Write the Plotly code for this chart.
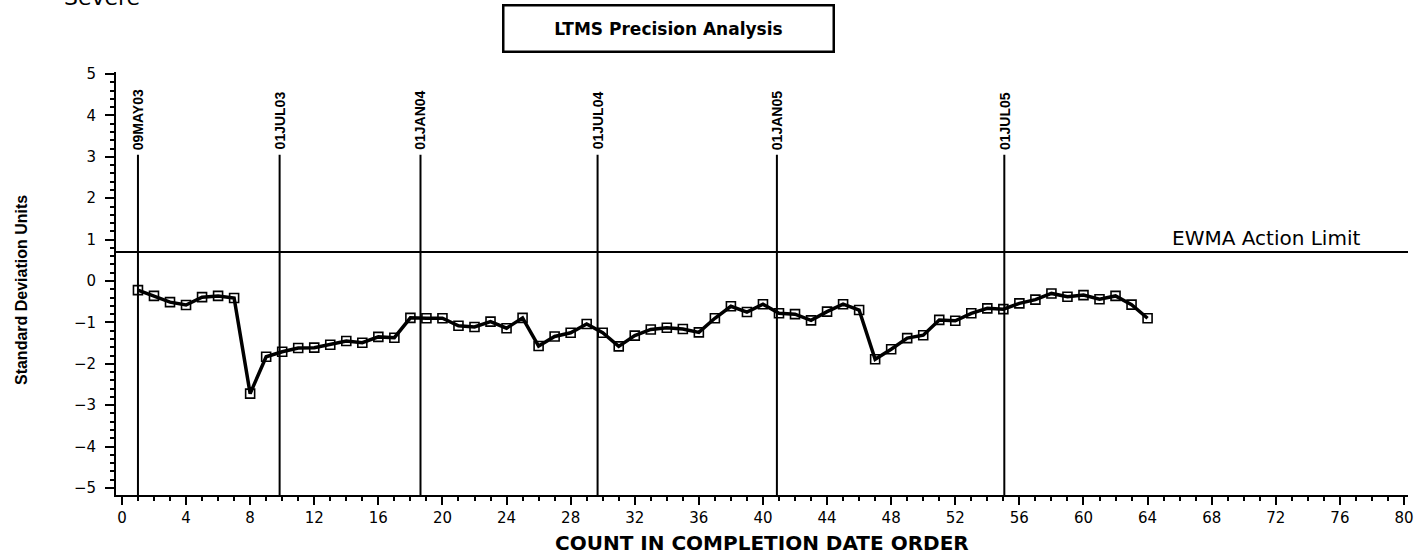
"""
LTMS precision analysis chart: EWMA of test results in standard deviation
units, plotted against completion order, with calendar markers and the
EWMA action limit.
"""

import plotly.graph_objects as go


# ── Data ─────────────────────────────────────────────────────────────────────
COUNTS = list(range(1, 65))
EWMA_VALUES = [
    -0.22, -0.36, -0.51, -0.58, -0.39, -0.36, -0.41, -2.72,
    -1.83, -1.71, -1.62, -1.61, -1.54, -1.45, -1.49, -1.35,
    -1.37, -0.89, -0.90, -0.90, -1.08, -1.11, -0.98, -1.14,
    -0.89, -1.57, -1.34, -1.25, -1.04, -1.25, -1.58, -1.32,
    -1.17, -1.13, -1.16, -1.24, -0.90, -0.61, -0.75, -0.56,
    -0.78, -0.80, -0.95, -0.74, -0.56, -0.70, -1.89, -1.65,
    -1.38, -1.31, -0.94, -0.96, -0.78, -0.66, -0.68, -0.54,
    -0.45, -0.30, -0.38, -0.34, -0.44, -0.36, -0.57, -0.90,
]

# Calendar markers, placed at their (fractional) position in count order
DATE_LABELS = ["09MAY03", "01JUL03", "01JAN04", "01JUL04", "01JAN05", "01JUL05"]
DATE_COUNTS = [1.0, 9.84, 18.63, 29.68, 40.87, 55.06]

ACTION_LIMIT = 0.70
ACTION_LABEL = "EWMA Action Limit"

# ── Styling ──────────────────────────────────────────────────────────────────
_X_RANGE = [-0.37, 80.25]
_Y_RANGE = [-5.17, 5.05]
_MARKER_TOP = 3.05
_WIDE = "DejaVu Sans, Verdana, sans-serif"
_NARROW = "Liberation Sans, Arial, sans-serif"

fig = go.Figure()

fig.add_trace(go.Scatter(
    x=COUNTS,
    y=EWMA_VALUES,
    mode="lines+markers",
    line=dict(color="black", width=3.5),
    marker=dict(symbol="square-open", size=9, color="black",
                line=dict(width=1.6, color="black")),
    showlegend=False,
    hovertemplate="Count %{x}: %{y:.2f}<extra></extra>",
))

# Vertical date markers with rotated labels above them
for label, pos in zip(DATE_LABELS, DATE_COUNTS):
    fig.add_shape(
        type="line", xref="x", yref="y",
        x0=pos, x1=pos, y0=_Y_RANGE[0], y1=_MARKER_TOP,
        line=dict(color="black", width=2),
    )
    fig.add_annotation(
        x=pos, y=_MARKER_TOP, xref="x", yref="y",
        text=f"<b>{label}</b>", textangle=-90, showarrow=False,
        xanchor="center", yanchor="bottom", yshift=3,
        font=dict(family=_NARROW, size=14, color="black"),
    )

# EWMA action limit
fig.add_shape(
    type="line", xref="paper", yref="y",
    x0=0, x1=1, y0=ACTION_LIMIT, y1=ACTION_LIMIT,
    line=dict(color="black", width=2),
)
fig.add_annotation(
    x=77.4, y=ACTION_LIMIT, xref="x", yref="y",
    text=ACTION_LABEL, showarrow=False,
    xanchor="right", yanchor="bottom", yshift=0,
    font=dict(family=_WIDE, size=20, color="black"),
)

# Boxed title
fig.add_annotation(
    x=0.4274, y=1.1017, xref="paper", yref="paper",
    text="<b>LTMS Precision Analysis</b>", showarrow=False,
    xanchor="center", yanchor="middle",
    width=328, height=44, borderpad=0,
    bordercolor="black", borderwidth=2.5, bgcolor="white",
    font=dict(family=_WIDE, size=17, color="black"),
)

# Clipped heading at the top left of the page (cut off in the original too)
fig.add_annotation(
    x=-0.042, y=1.176, xref="paper", yref="paper",
    text="Severe", showarrow=False,
    xanchor="left", yanchor="middle",
    font=dict(family=_WIDE, size=22, color="black"),
)

# Axis titles
fig.add_annotation(
    x=-0.0726, y=0.485, xref="paper", yref="paper",
    text="<b>Standard Deviation Units</b>", textangle=-90, showarrow=False,
    xanchor="center", yanchor="middle",
    font=dict(family=_NARROW, size=16, color="black"),
)
fig.add_annotation(
    x=0.5, y=-0.113, xref="paper", yref="paper",
    text="<b>COUNT IN COMPLETION DATE ORDER</b>", showarrow=False,
    xanchor="center", yanchor="middle",
    font=dict(family=_WIDE, size=20, color="black"),
)

fig.update_layout(
    width=1426,
    height=555,
    margin=dict(l=116, r=16, t=72, b=60),
    paper_bgcolor="white",
    plot_bgcolor="white",
    showlegend=False,
    xaxis=dict(
        range=_X_RANGE,
        tickmode="linear", tick0=0, dtick=4,
        ticks="outside", ticklen=8, tickwidth=2, tickcolor="black",
        minor=dict(ticks="outside", dtick=1, ticklen=4, tickwidth=1.5,
                   tickcolor="black"),
        showline=True, linecolor="black", linewidth=2,
        showgrid=False, zeroline=False,
        tickfont=dict(family=_WIDE, size=15, color="black"),
    ),
    yaxis=dict(
        range=_Y_RANGE,
        tickmode="linear", tick0=0, dtick=1,
        ticks="outside", ticklen=9, tickwidth=2, tickcolor="black",
        minor=dict(ticks="outside", dtick=0.2, ticklen=4, tickwidth=1.5,
                   tickcolor="black"),
        showline=True, linecolor="black", linewidth=2,
        showgrid=False, zeroline=False,
        ticklabelstandoff=6,
        tickfont=dict(family=_WIDE, size=15, color="black"),
    ),
)

# drop the default body margin so the figure fills the window exactly
fig.write_html(
    "out.html",
    config={"displayModeBar": False},
    post_script="document.body.style.margin = '0';",
)
